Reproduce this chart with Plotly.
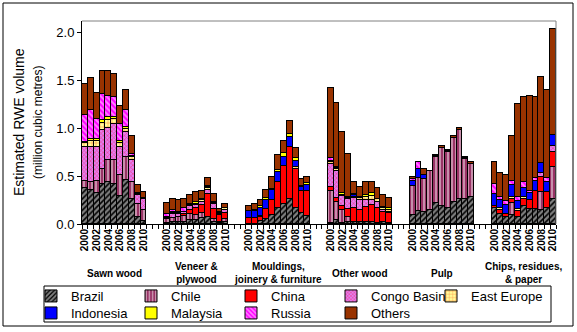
import plotly.graph_objects as go
import numpy as np

groups = ["Sawn wood", "Veneer &<br>plywood", "Mouldings,<br>joinery & furniture",
          "Other wood", "Pulp", "Chips, residues,<br>& paper"]
years = list(range(2000, 2011))

# values per series: 6 groups x 11 years (2000-2010), million m3 RWE
brazil = [.38,.35,.32,.42,.44,.42,.29,.46,.26,.07,.035,
          .015,.02,.02,.025,.042,.04,.06,.07,.02,.015,.02,
          .005,.005,.035,.05,.094,.164,.21,.257,.164,.11,.083,
          .015,.04,.007,.017,.024,.02,.024,.017,.01,.017,.007,
          .094,.135,.122,.146,.215,.1875,.163,.226,.257,.257,.278,
          .163,.104,.07,.094,.076,.1875,.153,.153,.146,.163,.257]
chile = [.07,.09,.13,.15,.23,.25,.22,.24,.18,.14,.115,
         .035,.045,.05,.055,.062,.05,.055,0,.03,.01,.03,
         0,0,0,0,0,0,0,0,0,0,0,
         .332,.186,.139,.059,0,0,0,0,0,0,0,
         .306,.341,.343,.406,.479,.6075,.584,.674,.722,.417,.342,
         0,0,0,.128,0,0,0,0,.191,0,.333]
china = [0,0,0,0,0,0,0,0,0,0,0,
         0,0,0,.02,.042,.08,.083,.24,.105,.07,.06,
         .055,.055,.035,.105,.156,.276,.39,.543,.406,.23,.257,
         .042,.041,.044,.08,.146,.126,.156,.181,.153,.105,.103,
         0,0,0,0,0,0,0,0,0,0,0,
         .027,.042,.034,.038,.06,.0725,.097,.194,.149,.174,.163]
congo = [.35,.36,.35,.41,.33,.37,.29,.26,.23,.09,.11,
         .015,.04,.03,.03,.041,.028,.032,.045,.055,.01,.04,
         0,0,0,0,0,0,0,0,0,0,0,
         .239,.289,.105,.101,.097,.104,.07,.052,.07,.024,.018,
         0,0,0,0,0,0,0,0,0,0,0,
         0,0,0,0,0,0,0,0,.042,0,.06]
east_europe = [.04,.06,.06,.07,.08,.05,.04,.035,.03,.01,.01,
               0,.01,.015,0,.01,.015,.015,.015,.01,.012,.015,
               0,0,.01,0,0,0,0,0,.02,0,0,
               .014,.02,.012,.014,.012,.02,.03,.045,.027,.02,.02,
               0,0,0,0,.012,0,.012,0,0,.01,.01,
               0,.017,0,.017,.02,.025,0,0,0,0,0]
indonesia = [0,0,0,0,0,0,0,0,0,0,0,
             0,0,0,0,0,0,0,0,0,0,0,
             .075,.08,.09,.10,.10,.10,.10,.105,.07,.045,.07,
             0,.01,0,0,.019,0,0,0,0,0,0,
             .048,.093,.045,0,0,0,0,0,0,0,0,
             .1225,.087,.094,.128,.084,.087,.07,.103,.104,.103,.115]
malaysia = [.017,.025,.03,.03,.03,.02,.02,.015,.01,0,0,
            .005,.005,.015,0,.008,.013,.012,.015,.01,0,0,
            .005,.01,.015,.015,.015,.02,.036,.03,.03,.015,.02,
            .014,.011,.012,.014,.011,.015,.022,.024,0,.014,.015,
            0,0,0,0,0,0,0,0,0,0,0,
            0,0,0,0,0,0,0,0,0,0,0]
russia = [.278,.305,.20,.27,.22,.21,.18,.18,.02,.01,0,
          .035,.025,0,.033,0,0,0,.01,0,.012,0,
          0,0,0,0,0,0,0,0,0,0,0,
          .028,0,0,0,0,0,0,0,0,0,0,
          .017,.073,0,0,0,0,0,0,0,0,0,
          .10,.035,.045,.042,.038,.062,.024,.026,0,.036,0]
others = [.323,.33,.27,.24,.26,.24,.19,.21,.19,.09,.06,
          .11,.112,.12,.094,.095,.104,.083,.08,.08,.026,.04,
          .05,.055,.065,.084,.121,.16,.129,.135,.10,.07,.056,
          .729,.66,.636,.441,.125,.104,.132,.115,.112,.122,.104,
          .021,0,.063,0,.013,.0175,.012,.017,.018,.01,.012,
          .229,.243,.267,.469,.969,.885,.993,.843,.903,.92,1.101]

# (name, values, pattern or None, solid colour, legend id)
series = [
    ("Brazil", brazil, dict(shape="/", fgcolor="white", bgcolor="black", size=4, solidity=0.6), None, "legend"),
    ("Chile", chile, dict(shape="|", fgcolor="white", bgcolor="#993366", size=4, solidity=0.45), None, "legend"),
    ("China", china, None, "#FF0000", "legend"),
    ("Congo Basin", congo, dict(shape="x", fgcolor="#FF0033", bgcolor="#E080F0", size=3, solidity=0.4), None, "legend2"),
    ("East Europe", east_europe, dict(shape="+", fgcolor="#FF3300", bgcolor="#FFFF99", size=4, solidity=0.3), None, "legend3"),
    ("Indonesia", indonesia, None, "#0000FF", "legend4"),
    ("Malaysia", malaysia, None, "#FFFF00", "legend4"),
    ("Russia", russia, dict(shape="\\", fgcolor="white", bgcolor="#FF00FF", size=4, solidity=0.5), None, "legend4"),
    ("Others", others, None, "#993300", "legend4"),
]

SLOT = len(years) + 3  # bars per group plus gap
xpos = [g * SLOT + i for g in range(len(groups)) for i in range(len(years))]

fig = go.Figure()
for name, vals, pat, col, leg in series:
    if pat is None:
        marker = dict(color=col, line=dict(color="black", width=1))
    else:
        marker = dict(color=pat["bgcolor"], pattern=pat, line=dict(color="black", width=1))
    fig.add_trace(go.Bar(x=xpos, y=vals, name=name, width=1, marker=marker, legend=leg))

tickvals = [g * SLOT + i for g in range(len(groups)) for i in range(0, len(years), 2)]
ticktext = [str(years[i]) for g in range(len(groups)) for i in range(0, len(years), 2)]
nslots = SLOT * len(groups) - 3

W, H = 577, 332
L, R, T, B = 82, 21, 21, 108
pw, ph = W - L - R, H - T - B
def px(x): return (x - L) / pw
def py(y): return (H - B - y) / ph

FONT = "Liberation Sans, Arial, sans-serif"
legbase = dict(orientation="h", xanchor="left", yanchor="top", bgcolor="rgba(0,0,0,0)", borderwidth=0,
               font=dict(size=13, family=FONT), entrywidth=55, entrywidthmode="pixels",
               traceorder="normal", tracegroupgap=0)
fig.update_layout(
    width=W, height=H, margin=dict(l=L, r=R, t=T, b=B, autoexpand=False),
    barmode="stack", bargap=0,
    paper_bgcolor="white", plot_bgcolor="white",
    font=dict(family=FONT, color="black"),
    xaxis=dict(range=[-0.5, nslots - 0.5], tickmode="array", tickvals=tickvals, ticktext=ticktext,
               tickangle=-90, tickfont=dict(size=10, weight="bold"), ticks="", automargin=False,
               showline=True, linecolor="black", linewidth=1, showgrid=False, zeroline=False,
               minor=dict(tickmode="array", tickvals=list(np.arange(-0.5, nslots, 1.0)),
                          ticks="outside", ticklen=4, tickcolor="black")),
    yaxis=dict(range=[0, 2.115], tickmode="array", tickvals=[0, 0.5, 1.0, 1.5, 2.0], tickformat=".1f",
               ticks="outside", ticklen=4, tickcolor="black", tickfont=dict(size=13), automargin=False,
               showline=True, linecolor="black", linewidth=1, showgrid=False, zeroline=False),
    legend=dict(legbase, x=px(31), y=py(281)),
    legend2=dict(legbase, x=px(331), y=py(281), entrywidth=80),
    legend3=dict(legbase, x=px(431), y=py(281), entrywidth=80),
    legend4=dict(legbase, x=px(31), y=py(298)),
    showlegend=True,
)

for g, label in enumerate(groups):
    fig.add_annotation(x=g * SLOT + (len(years) - 1) / 2, y=py(273), xref="x", yref="paper",
                       text=label, showarrow=False, font=dict(size=10, weight="bold"),
                       xanchor="center", yanchor="middle")

fig.add_annotation(x=px(28), y=py(122), xref="paper", yref="paper", textangle=-90,
                   xanchor="center", yanchor="middle",
                   text="Estimated RWE volume<br><span style='font-size:12px'>(million cubic metres)</span>",
                   showarrow=False, font=dict(size=14))

fig.add_shape(type="line", xref="paper", yref="paper", x0=0, x1=1, y0=1, y1=1,
              line=dict(color="#808080", width=1))
fig.add_shape(type="line", xref="paper", yref="paper", x0=1, x1=1, y0=0, y1=1,
              line=dict(color="#808080", width=1))
fig.add_shape(type="rect", xref="paper", yref="paper", x0=px(3), x1=px(573), y0=py(326), y1=py(3),
              line=dict(color="black", width=1))
fig.add_shape(type="rect", xref="paper", yref="paper", x0=px(44), x1=px(551), y0=py(322), y1=py(286),
              line=dict(color="black", width=1))

fig.write_html("out.html")
